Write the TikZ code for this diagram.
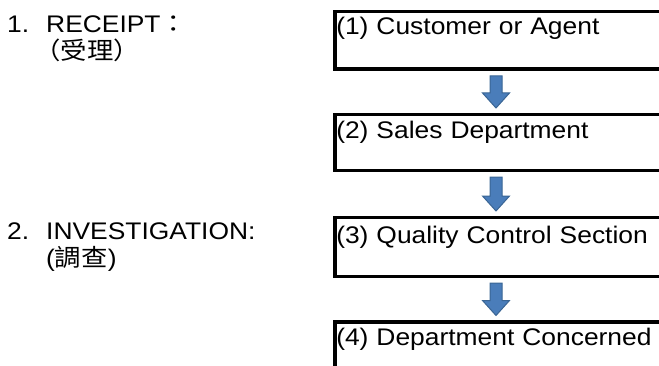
\documentclass[tikz,border=0pt]{standalone}
\usepackage{fontspec}
\setmainfont[FakeStretch=1.1]{Liberation Sans}
\newfontfamily\cjk[FakeStretch=1.1]{Noto Sans CJK TC}
\usetikzlibrary{calc}
\definecolor{arrowfill}{HTML}{4A7DBA}
\definecolor{arrowline}{HTML}{3A6594}
\begin{document}
\begin{tikzpicture}[x=1pt,y=1pt,
  lbl/.style={anchor=base west, inner sep=0pt, font=\fontsize{24pt}{28pt}\selectfont},
  stagebox/.style={draw=black, line width=3.5pt, anchor=north west, inner xsep=1.5pt, inner ysep=0pt,
    text width=364pt, align=left, font=\fontsize{24pt}{28pt}\selectfont},
  blockarrow/.style={fill=arrowfill, draw=arrowline, line width=1pt,
    to path={($(\tikztostart)+(-6,-5)$) -- ($(\tikztostart)+(6,-5)$) -- ($(\tikztotarget)+(6,19.5)$)
      -- ($(\tikztotarget)+(13.5,19.5)$) -- ($(\tikztotarget)+(0,4.5)$) -- ($(\tikztotarget)+(-13.5,19.5)$)
      -- ($(\tikztotarget)+(-6,19.5)$) -- cycle}}
]
\useasboundingbox (0,0) rectangle (659,365);
\clip (0,0) rectangle (659,365);

% left labels
\node[lbl] (l1) at (7,332) {\makebox[39pt][l]{1.}RECEIPT{\cjk ：}};
\node[lbl] (l1b) at (34,305) {\cjk （受理）};
\node[lbl] (l2) at (7,126) {\makebox[39pt][l]{2.}INVESTIGATION:};
\node[lbl] (l2b) at (46,99) {({\cjk 調查})};

% boxes
\node[stagebox, text height=23pt, text depth=34.5pt] (b1) at (333,355) {(1) Customer or Agent};
\node[stagebox, text height=24.5pt, text depth=31.5pt] (b2) at (333,252.5) {(2) Sales Department};
\node[stagebox, text height=26pt, text depth=33pt] (b3) at (333,149.5) {(3) Quality Control Section};
\node[stagebox, text height=24pt, text depth=80pt] (b4) at (333,45) {(4) Department Concerned};

% arrows
\coordinate (ax) at (496,0);
\coordinate (a1s) at (b1.south -| ax);
\coordinate (a1e) at (b2.north -| ax);
\coordinate (a2s) at (b2.south -| ax);
\coordinate (a2e) at (b3.north -| ax);
\coordinate (a3s) at (b3.south -| ax);
\coordinate (a3e) at (b4.north -| ax);
\draw[blockarrow] (a1s) to (a1e);
\draw[blockarrow] (a2s) to (a2e);
\draw[blockarrow] (a3s) to (a3e);
\end{tikzpicture}
\end{document}
